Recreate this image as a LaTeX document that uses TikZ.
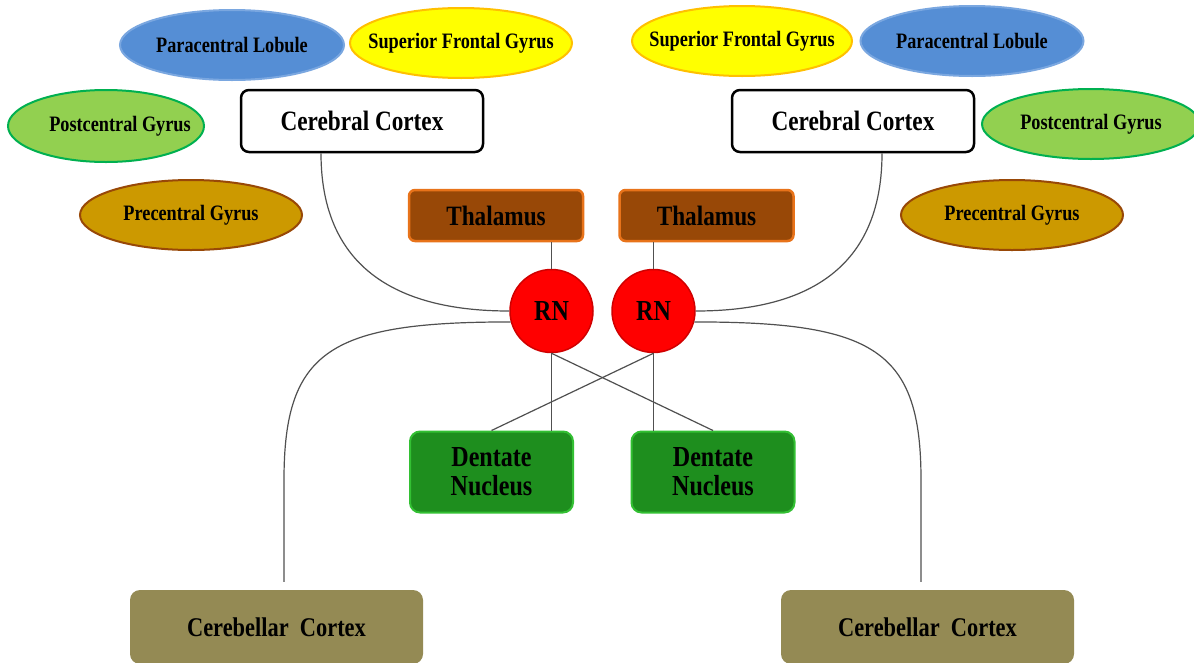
\documentclass[tikz,border=0pt]{standalone}
\usepackage{fontspec}
\setmainfont{Liberation Serif}[FakeStretch=0.83]
\usetikzlibrary{calc,shapes.geometric}
\definecolor{blueF}{HTML}{558ED5}
\definecolor{blueD}{HTML}{7AA7E0}
\definecolor{yelF}{HTML}{FFFF00}
\definecolor{yelD}{HTML}{FFC000}
\definecolor{pgF}{HTML}{92D050}
\definecolor{pgD}{HTML}{00B050}
\definecolor{prF}{HTML}{CC9900}
\definecolor{prD}{HTML}{984807}
\definecolor{thF}{HTML}{984807}
\definecolor{thD}{HTML}{E8731A}
\definecolor{rnF}{HTML}{FF0000}
\definecolor{rnD}{HTML}{D00000}
\definecolor{dnF}{HTML}{1E8E1E}
\definecolor{dnD}{HTML}{33C033}
\definecolor{cbF}{HTML}{948A54}
\definecolor{lineC}{HTML}{505050}
\begin{document}
\begin{tikzpicture}[x=1pt,y=-1pt,
  ell/.style={ellipse, draw, line width=2pt, inner sep=0pt},
  elltext/.style={font=\fontsize{22}{24}\selectfont\bfseries, inner sep=0pt},
  cortexbox/.style={rectangle, rounded corners=8pt, draw=black, fill=white, line width=2.5pt, inner sep=0pt, minimum width=242pt, minimum height=62pt, font=\fontsize{28}{30}\selectfont\bfseries},
  thalbox/.style={rectangle, rounded corners=6pt, draw=thD, fill=thF, line width=2.5pt, inner sep=0pt, minimum width=174pt, minimum height=51pt, font=\fontsize{28}{30}\selectfont\bfseries},
  rnnode/.style={circle, draw=rnD, fill=rnF, line width=1.5pt, inner sep=0pt, minimum size=83pt, font=\fontsize{29}{30}\selectfont\bfseries},
  dentbox/.style={rectangle, rounded corners=10pt, draw=dnD, fill=dnF, line width=2pt, inner sep=0pt, minimum width=163pt, minimum height=81pt, align=center, font=\fontsize{29}{29}\selectfont\bfseries},
  cblbox/.style={rectangle, rounded corners=10pt, fill=cbF, inner sep=0pt, minimum width=293pt, minimum height=74pt, font=\fontsize{27}{29}\selectfont\bfseries},
  conn/.style={draw=lineC, line width=1.2pt}
]
\useasboundingbox (0,0) rectangle (1194,662);
\fill[white] (0,0) rectangle (1194,662);
\clip (0,0) rectangle (1194,662);

% left ellipses
\node[ell, fill=blueF, draw=blueD, minimum width=224pt, minimum height=70pt,
  label={[elltext]center:Paracentral Lobule}] (plL) at (232,45) {};
\node[ell, fill=yelF, draw=yelD, minimum width=222pt, minimum height=70pt,
  label={[elltext]center:Superior Frontal Gyrus}] (sfL) at (461,43) {};
\node[ell, fill=pgF, draw=pgD, minimum width=196pt, minimum height=72pt,
  label={[elltext, xshift=14pt]center:Postcentral Gyrus}] (pgL) at (106,126) {};
\node[ell, fill=prF, draw=prD, minimum width=222pt, minimum height=70pt,
  label={[elltext]center:Precentral Gyrus}] (prL) at (191,215) {};
% right ellipses
\node[ell, fill=yelF, draw=yelD, minimum width=220pt, minimum height=70pt,
  label={[elltext]center:Superior Frontal Gyrus}] (sfR) at (742,41) {};
\node[ell, fill=blueF, draw=blueD, minimum width=223pt, minimum height=70pt,
  label={[elltext]center:Paracentral Lobule}] (plR) at (972,41) {};
\node[ell, fill=pgF, draw=pgD, minimum width=218pt, minimum height=70pt,
  label={[elltext]center:Postcentral Gyrus}] (pgR) at (1091,124) {};
\node[ell, fill=prF, draw=prD, minimum width=222pt, minimum height=70pt,
  label={[elltext]center:Precentral Gyrus}] (prR) at (1012,215) {};

% cortex boxes
\node[cortexbox] (ccL) at (362,121) {Cerebral Cortex};
\node[cortexbox] (ccR) at (853,121) {Cerebral Cortex};

% thalamus
\node[thalbox] (thL) at (496,215.5) {Thalamus};
\node[thalbox] (thR) at (706.5,215.5) {Thalamus};

% red nuclei
\node[rnnode] (rnL) at (551.5,311) {RN};
\node[rnnode] (rnR) at (653.5,311) {RN};

% dentate
\node[dentbox] (dnL) at (491.5,472) {Dentate\\Nucleus};
\node[dentbox] (dnR) at (713,472) {Dentate\\Nucleus};

% cerebellar cortex
\node[cblbox] (cbL) at (276.5,627) {Cerebellar\ \ Cortex};
\node[cblbox] (cbR) at (927.5,627) {Cerebellar\ \ Cortex};

\coordinate (cbLtop) at ($(cbL.north)+(7.5,-8)$);
\coordinate (cbRtop) at ($(cbR.north)+(-6.5,-8)$);

% connectors
\draw[conn] (thL.south -| rnL.north) -- (rnL.north);
\draw[conn] (thR.south -| rnR.north) -- (rnR.north);
\draw[conn] ($(ccL.south)+(-41,0)$) .. controls +(0,130) and +(-90,0) .. (rnL.west);
\draw[conn] ($(ccR.south)+(29,0)$) .. controls +(0,130) and +(90,0) .. (rnR.east);
\draw[conn] (rnL.195) .. controls +(-180,0) and +(0,-130) .. ($(cbLtop)+(0,-102)$) -- (cbLtop);
\draw[conn] (rnR.-15) .. controls +(180,0) and +(0,-130) .. ($(cbRtop)+(0,-102)$) -- (cbRtop);
\draw[conn] (rnL.south) -- (rnL.south |- dnL.north);
\draw[conn] (rnR.south) -- (rnR.south |- dnR.north);
\draw[conn] (rnL.south) -- (dnR.north);
\draw[conn] (rnR.south) -- (dnL.north);
\end{tikzpicture}
\end{document}
